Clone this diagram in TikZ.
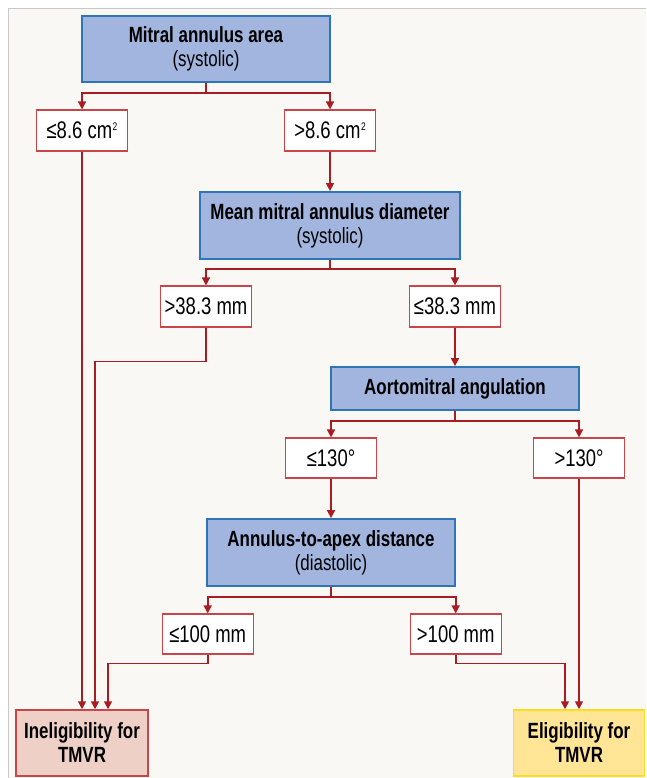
\documentclass[tikz,border=0pt]{standalone}
\usepackage{fontspec}
\setmainfont{Liberation Sans}[FakeStretch=0.77]
\usetikzlibrary{arrows.meta}
\definecolor{panel}{HTML}{F9F8F4}
\definecolor{panelline}{HTML}{C8C8C8}
\definecolor{bluefill}{HTML}{A1B5DE}
\definecolor{blueline}{HTML}{2E75B6}
\definecolor{redline}{HTML}{C8464A}
\definecolor{arrowred}{HTML}{A71D22}
\definecolor{pinkfill}{HTML}{EFD0C7}
\definecolor{yellowfill}{HTML}{FFE595}
\definecolor{yellowline}{HTML}{FFDC1E}
\newcommand{\sqsup}{\kern0.5pt\raisebox{8.5pt}{\fontsize{11}{11}\selectfont 2}}
\tikzset{
  mainbox/.style={draw=blueline, line width=1.8pt, fill=bluefill, inner sep=0pt,
    minimum width=248pt, align=center, font=\fontsize{22}{24}\selectfont},
  condbox/.style={draw=redline, line width=1.2pt, fill=white, inner sep=0pt,
    minimum width=91pt, minimum height=41pt, font=\fontsize{24}{26}\selectfont},
  endbox/.style={line width=1.5pt, inner sep=0pt, minimum width=132pt, minimum height=66pt,
    align=center, font=\bfseries\fontsize{22}{24}\selectfont},
  link/.style={draw=arrowred, line width=1.6pt},
  conn/.style={link, -{Triangle[length=8pt,width=8pt]}}
}
\begin{document}
\begin{tikzpicture}[x=1pt,y=-1pt]
\useasboundingbox (0,0) rectangle (646,778);
\clip (0,0) rectangle (646,778);
\fill[white] (0,0) rectangle (646,778);
\draw[panelline, line width=1pt, fill=panel] (8.5,8.5) rectangle (700,820);

% nodes
\node[mainbox, minimum height=66pt] (area) at (206,49) {\textbf{Mitral annulus area}\\(systolic)};
\node[condbox] (a1) at (82,130.5) {≤8.6 cm\sqsup};
\node[condbox] (a2) at (330,130.5) {>8.6 cm\sqsup};
\node[mainbox, minimum width=260pt, minimum height=67pt] (diam) at (330,225.5) {\textbf{Mean mitral annulus diameter}\\(systolic)};
\node[condbox] (b1) at (206,306.5) {>38.3 mm};
\node[condbox] (b2) at (455,306.5) {≤38.3 mm};
\node[mainbox, minimum height=43pt] (angl) at (455,388.5) {\textbf{Aortomitral angulation}};
\node[condbox, minimum height=40pt] (c1) at (331,458) {≤130°};
\node[condbox, minimum height=40pt] (c2) at (579,458) {>130°};
\node[mainbox, minimum height=67pt] (apex) at (331,552.5) {\textbf{Annulus-to-apex distance}\\(diastolic)};
\node[condbox, minimum height=40pt] (d1) at (207.7,634) {≤100 mm};
\node[condbox, minimum height=40pt] (d2) at (455.7,634) {>100 mm};
\node[endbox, draw=redline, fill=pinkfill] (inel) at (82,743) {Ineligibility for\\TMVR};
\node[endbox, draw=yellowline, fill=yellowfill, minimum width=131pt] (elig) at (579,743) {Eligibility for\\TMVR};

% junctions
\coordinate (j1) at (206,93);
\coordinate (j2) at (330,269);
\coordinate (j3) at (455,421);
\coordinate (j4) at (331,597);

\draw[link] (area.south) -- (j1);
\draw[conn] (j1) -| (a1.north);
\draw[conn] (j1) -| (a2.north);
\draw[conn] (a1.south) -- (inel.north);
\draw[conn] (a2.south) -- (diam.north);

\draw[link] (diam.south) -- (j2);
\draw[conn] (j2) -| (b1.north);
\draw[conn] (j2) -| (b2.north);
\draw[conn] (b1.south) -- ++(0,34) -| ([xshift=13pt]inel.north);
\draw[conn] (b2.south) -- (angl.north);

\draw[link] (angl.south) -- (j3);
\draw[conn] (j3) -| (c1.north);
\draw[conn] (j3) -| (c2.north);
\draw[conn] (c1.south) -- (apex.north);
\draw[conn] (c2.south) -- (elig.north);

\draw[link] (apex.south) -- (j4);
\draw[conn] (j4) -| (d1.north);
\draw[conn] (j4) -| (d2.north);
\draw[conn] (d1.south) -- ++(0,9) -| ([xshift=26pt]inel.north);
\draw[conn] (d2.south) -- ++(0,9) -| ([xshift=-14pt]elig.north);
\end{tikzpicture}
\end{document}
